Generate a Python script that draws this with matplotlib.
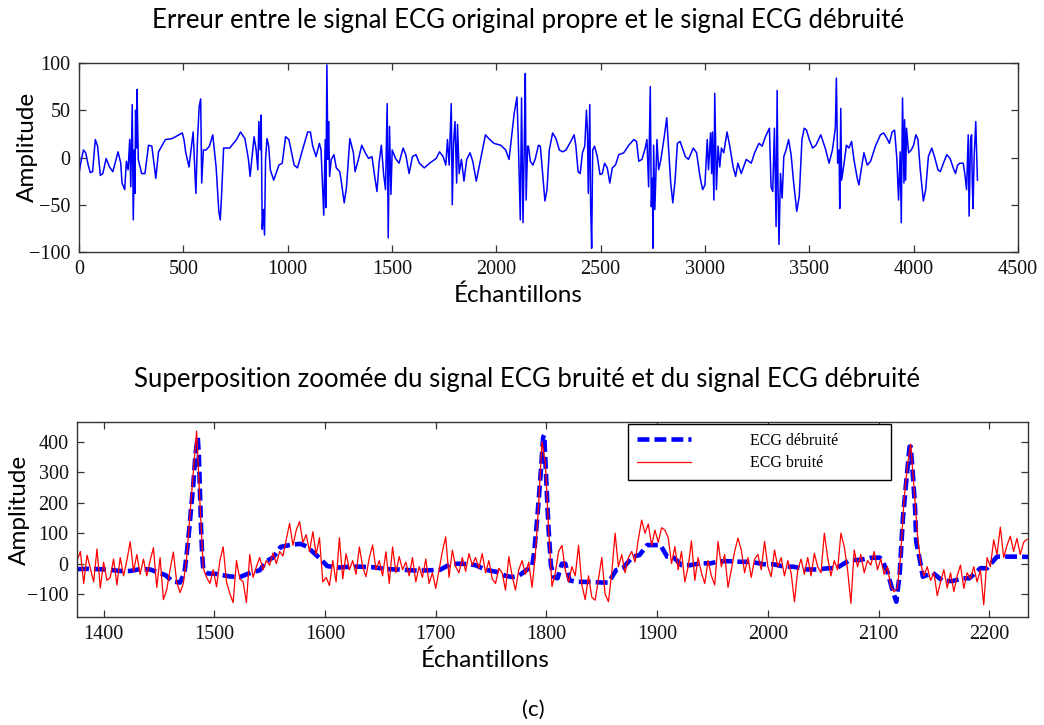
import numpy as np
import matplotlib
matplotlib.use("Agg")
import matplotlib.pyplot as plt

# --- top panel: error between clean and denoised ECG (sample, amplitude) ---
err_n = [0, 8, 21, 32, 44, 54, 65, 78, 89, 102, 114, 130, 146, 162, 187, 200, 206, 219, 227, 235,
         243, 248, 255, 260, 265, 268, 271, 276, 278, 284, 300, 316, 333, 349, 368, 381, 414, 446, 495, 503,
         511, 527, 547, 560, 568, 576, 583, 588, 596, 609, 625, 641, 657, 670, 677, 683, 693, 722, 755, 774,
         795, 812, 820, 839, 849, 857, 862, 868, 873, 878, 883, 889, 894, 901, 909, 917, 933, 958, 974, 990,
         1006, 1031, 1047, 1071, 1096, 1109, 1120, 1136, 1152, 1160, 1173, 1180, 1183, 1188, 1193, 1196, 1201, 1209, 1222, 1233,
         1250, 1258, 1271, 1282, 1298, 1315, 1323, 1339, 1355, 1372, 1388, 1404, 1417, 1428, 1438, 1449, 1460, 1469, 1477, 1482,
         1488, 1495, 1501, 1517, 1534, 1553, 1566, 1582, 1598, 1615, 1631, 1655, 1680, 1712, 1728, 1745, 1758, 1766, 1774, 1784,
         1789, 1795, 1802, 1810, 1814, 1822, 1833, 1845, 1858, 1874, 1887, 1904, 1923, 1948, 1964, 1988, 2021, 2045, 2061, 2073,
         2086, 2099, 2105, 2115, 2121, 2128, 2134, 2139, 2143, 2150, 2154, 2163, 2175, 2186, 2202, 2211, 2222, 2233, 2243, 2254,
         2270, 2286, 2302, 2318, 2334, 2357, 2373, 2381, 2392, 2402, 2413, 2424, 2432, 2437, 2441, 2448, 2452, 2457, 2462, 2471,
         2484, 2497, 2508, 2519, 2532, 2544, 2556, 2571, 2587, 2611, 2635, 2659, 2672, 2683, 2698, 2714, 2722, 2730, 2738, 2743,
         2748, 2751, 2754, 2760, 2770, 2778, 2789, 2805, 2817, 2825, 2836, 2846, 2857, 2868, 2881, 2906, 2921, 2944, 2960, 2976,
         2989, 3000, 3011, 3017, 3027, 3032, 3036, 3043, 3047, 3055, 3063, 3071, 3079, 3090, 3106, 3119, 3135, 3147, 3158, 3174,
         3198, 3222, 3238, 3259, 3274, 3290, 3309, 3317, 3325, 3333, 3341, 3346, 3350, 3355, 3362, 3370, 3378, 3389, 3401, 3413,
         3424, 3440, 3452, 3465, 3476, 3487, 3500, 3516, 3532, 3555, 3563, 3579, 3595, 3611, 3625, 3630, 3636, 3643, 3646, 3651,
         3655, 3667, 3678, 3690, 3703, 3714, 3730, 3738, 3751, 3762, 3778, 3794, 3817, 3841, 3857, 3873, 3884, 3897, 3909, 3920,
         3928, 3936, 3941, 3947, 3954, 3957, 3962, 3966, 3976, 3989, 4000, 4011, 4021, 4032, 4047, 4058, 4071, 4087, 4100, 4117,
         4128, 4143, 4159, 4175, 4190, 4201, 4211, 4222, 4238, 4246, 4254, 4262, 4266, 4273, 4278, 4281, 4285, 4290, 4298, 4306]
err_amp = [-17, -6, 8, 5, -8, -16, -15, 19, 12, -19, -17, -1, -10, -15, 6, -6, -27, -34, -4, -13,
           19, -31, 56, -66, 8, -38, 50, 10, 72, -2, -17, -17, 13, 12, -22, 6, 19, 20, 26, 19,
           6, -10, 27, -38, 20, 54, 62, -27, 8, 8, 12, 24, -10, -57, -66, -41, 10, 10, 19, 27,
           20, -2, -20, 22, 8, -13, 38, 8, 45, -76, -55, -82, -2, 20, 12, -13, -24, -8, -6, 22,
           19, -8, -11, 8, 27, 27, 12, 1, 15, 8, -61, 19, -53, 98, -2, 38, -20, -2, 3, -11,
           -15, -27, -48, -31, 20, 5, -15, -2, 13, 5, -1, 1, -20, -36, -6, 13, -18, -34, 57, -85,
           33, -39, 8, -1, -6, 10, 3, -17, 1, 3, -6, -11, -6, -1, 6, 1, -8, 19, -8, 57,
           -50, 15, 38, -27, 35, -17, -2, -25, -2, 5, -4, -25, -4, 24, 20, 15, 13, 8, -2, 22,
           47, 64, 22, -66, 63, -69, 13, 89, -45, 12, 12, -4, -8, -2, 13, 12, -17, -46, -34, 8,
           26, 20, 8, 6, 8, 17, 24, 13, -15, -17, 5, 12, 50, 27, -38, 56, -48, -96, 8, 12,
           1, -18, -17, -6, -11, -27, -11, -8, 3, 5, 13, 19, 17, -4, -2, 10, 19, -31, 75, -52,
           -22, -96, 13, -55, 19, -13, -2, 22, 42, 12, -27, -48, -24, 15, 17, 1, -2, 10, 5, -20,
           -34, -29, 19, -13, 26, -17, 27, -45, 68, -34, 12, -10, 10, 5, 27, 12, -10, -20, -6, -17,
           -2, -6, 5, 15, 12, 22, 31, -31, -36, 31, -73, 71, -27, -92, -17, -43, 1, 8, 19, 3,
           -24, -57, -41, 19, 31, 29, 19, 10, 13, 24, 19, 8, -6, 8, 31, 84, -6, 8, -54, 52,
           -24, -6, 13, 10, 17, -2, -22, -29, -10, 5, -8, -4, 12, 24, 26, 20, 15, 27, 29, -2,
           -45, 6, -69, 63, -27, 40, -24, 31, 5, 8, 13, 24, 19, -13, -46, -34, 1, 10, 1, -13,
           -15, -6, 3, -1, -11, -17, -8, -6, -6, -18, -34, 24, -62, 19, 24, -24, -54, -1, 38, -24]

# --- bottom panel: denoised ECG (sample, amplitude) ---
den_n = [1376, 1386, 1395, 1405, 1415, 1424, 1433, 1442, 1450, 1456, 1462, 1469, 1473, 1475, 1477, 1479,
         1481, 1483, 1485, 1486, 1487, 1488, 1489, 1490, 1494, 1502, 1514, 1523, 1534, 1541, 1547, 1553,
         1560, 1569, 1578, 1584, 1590, 1596, 1602, 1611, 1623, 1632, 1644, 1656, 1665, 1675, 1683, 1693,
         1704, 1713, 1722, 1730, 1736, 1745, 1755, 1763, 1769, 1775, 1783, 1787, 1789, 1791, 1793, 1795,
         1797, 1798, 1799, 1800, 1801, 1802, 1804, 1807, 1810, 1814, 1817, 1821, 1826, 1835, 1841, 1850,
         1856, 1863, 1869, 1878, 1884, 1891, 1903, 1909, 1915, 1922, 1930, 1939, 1948, 1957, 1966, 1976,
         1985, 1996, 2005, 2015, 2023, 2035, 2044, 2055, 2062, 2074, 2083, 2092, 2101, 2104, 2108, 2112,
         2116, 2119, 2122, 2125, 2128, 2129, 2131, 2133, 2134, 2137, 2140, 2149, 2158, 2167, 2176, 2182,
         2192, 2198, 2207, 2213, 2225, 2235]
den_amp = [-18, -17, -18, -20, -24, -24, -18, -19, -30, -38, -58, -62, -30, 30, 100, 180,
           260, 360, 415, 360, 240, 120, 30, -18, -32, -34, -42, -44, -28, -22, 8, 20,
           55, 62, 65, 55, 35, 15, -8, -13, -10, -10, -12, -18, -19, -21, -23, -22,
           -20, -2, 0, -2, -5, -20, -27, -40, -44, -40, -18, -10, 40, 120, 209, 307,
           415, 422, 340, 250, 180, 110, -5, -45, -48, 0, 0, -55, -59, -60, -60, -62,
           -62, -21, -15, 23, 28, 61, 61, 23, 20, -5, -5, 1, 1, 8, 8, 6,
           6, -2, -2, -10, -10, -19, -19, -15, -15, 12, 12, 19, 20, 5, -27, -80,
           -125, -37, 150, 270, 384, 384, 291, 181, 72, 17, -43, -30, -57, -57, -48, -48,
           -15, -15, 23, 23, 23, 22]

# --- bottom panel: noisy ECG, one reading every 3 samples from 1376 ---
noisy_start, noisy_step = 1376, 3
noisy_amp = [10, 40, -65, 28, -15, -60, 48, -80, 5, -55,
             -45, 15, -70, 20, -40, 10, 72, -25, 30, -35,
             15, -40, 10, 52, -78, 20, -118, -85, -20, 38,
             -60, -95, -65, 20, 160, 300, 435, 200, -15, -45,
             -65, -20, -76, 10, 55, -60, -98, -128, 10, -50,
             -60, -128, 30, -45, -10, 20, -20, 10, -5, 35,
             0, 40, 25, 80, 132, 60, 110, 138, 70, 95,
             40, 105, 30, 85, -60, -45, -72, 10, -60, 85,
             -50, 33, -20, 10, -35, 55, -10, -43, 20, 61,
             -20, 10, -40, 39, -65, 55, -30, 23, -20, 5,
             -40, 20, -60, -10, -45, 15, -65, -30, -81, -20,
             40, 88, -45, 44, -10, -30, 20, -25, 33, -5,
             20, -15, 33, -30, 10, -50, -65, -15, -30, -87,
             23, -40, -87, -20, 10, -35, 5, -78, 30, 200,
             400, 330, 110, -75, -30, 40, 60, -20, -60, -10,
             -40, 60, -70, -118, -40, -110, -120, -50, 20, -100,
             -125, -30, 100, -10, 30, -30, 20, 40, 5, 80,
             143, 100, 130, 60, 110, 70, 118, 110, 85, 0,
             56, -20, 40, -60, -10, 75, -55, 20, -30, -65,
             10, -40, -70, 73, -10, 30, -78, -20, 40, 84,
             45, -30, 20, -45, 15, 30, -20, 73, -10, -43,
             45, -10, 20, -40, 10, -30, -125, -20, 15, -35,
             20, -40, 34, -10, -30, 100, 20, -40, 10, -20,
             100, 56, -20, -130, 45, -10, 30, -30, 10, -5,
             40, -20, 15, -35, -10, -75, -92, -80, 30, 210,
             320, 392, 250, 100, 0, -40, -10, -55, -30, -105,
             -60, -20, -80, -30, -92, -40, -5, -81, -30, -50,
             -10, -60, -20, -135, 20, -10, 78, 30, 120, 20,
             60, 90, 40, 83, 30, 70, 80]
noisy_n = noisy_start + noisy_step * np.arange(len(noisy_amp))

top_xticks = list(range(0, 4501, 500))
top_yticks = [-100, -50, 0, 50, 100]
bot_xticks = list(range(1400, 2201, 100))
bot_yticks = [-100, 0, 100, 200, 300, 400]

SANS = "Lato"
SERIF = "Liberation Serif"

fig = plt.figure(figsize=(10.44, 7.25), dpi=100)


def style_axes(ax):
    ax.tick_params(direction="in", top=True, right=True, length=5, width=0.9,
                   pad=6, colors="#333333", labelcolor="#111111")
    for lab in ax.get_xticklabels() + ax.get_yticklabels():
        lab.set_fontfamily(SERIF)
        lab.set_fontsize(14.5)
    for sp in ax.spines.values():
        sp.set_linewidth(1.0)
        sp.set_color("#333333")


# top panel
ax1 = fig.add_axes([0.0757, 0.6524, 0.8993, 0.2607])
ax1.plot(err_n, err_amp, color="blue", lw=1.1)
ax1.set_xlim(0, 4500)
ax1.set_ylim(-100, 100)
ax1.set_xticks(top_xticks)
ax1.set_yticks(top_yticks)
style_axes(ax1)
ax1.set_xlabel("Échantillons", family=SANS, fontsize=17.5)
ax1.set_ylabel("Amplitude", family=SANS, fontsize=17.5)
ax1.xaxis.set_label_coords(0.4675, -0.172)
ax1.yaxis.set_label_coords(-0.044, 0.556)
fig.text(0.506, 0.972, "Erreur entre le signal ECG original propre et le signal ECG débruité",
         family=SANS, fontsize=18.5, ha="center", va="center")

# bottom panel
ax2 = fig.add_axes([0.0738, 0.149, 0.9109, 0.269])
ax2.plot(den_n, den_amp, color="blue", lw=3.3, ls=(0, (2.6, 1.1)), label="ECG débruité")
ax2.plot(noisy_n, noisy_amp, color="red", lw=0.9, label="ECG bruité")
ax2.set_xlim(1376, 2235)
ax2.set_ylim(-175, 465)
ax2.set_xticks(bot_xticks)
ax2.set_yticks(bot_yticks)
style_axes(ax2)
ax2.set_xlabel("Échantillons", family=SANS, fontsize=17.5)
ax2.set_ylabel("Amplitude", family=SANS, fontsize=17.5)
ax2.xaxis.set_label_coords(0.429, -0.165)
ax2.yaxis.set_label_coords(-0.050, 0.549)
fig.text(0.505, 0.476, "Superposition zoomée du signal ECG bruité et du signal ECG débruité",
         family=SANS, fontsize=18.5, ha="center", va="center")

leg = ax2.legend(loc="upper left", bbox_to_anchor=(628 / 1044, 1 - 424 / 725, 263 / 1044, 0.0),
                 bbox_transform=fig.transFigure, mode="expand", borderaxespad=0,
                 prop={"family": SERIF, "size": 11.5}, handlelength=3.4, handletextpad=3.7,
                 labelspacing=0.4, borderpad=0.55, fancybox=False, framealpha=1)
leg.get_frame().set_edgecolor("black")
leg.get_frame().set_linewidth(1.0)

fig.text(0.511, 0.021, "(c)", family=SANS, fontsize=16, ha="center", va="center")

fig.savefig("out.png", dpi=100)
